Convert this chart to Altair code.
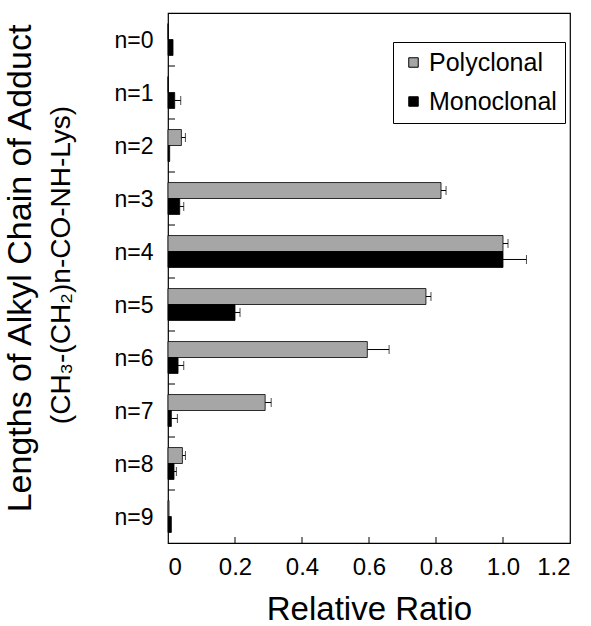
import altair as alt
import pandas as pd

cats = ["n=0", "n=1", "n=2", "n=3", "n=4", "n=5", "n=6", "n=7", "n=8", "n=9"]
series = ["Polyclonal", "Monoclonal"]
poly = [0.0, 0.0, 0.04, 0.815, 1.0, 0.77, 0.595, 0.29, 0.043, 0.003]
poly_err = [0.0, 0.0, 0.012, 0.015, 0.015, 0.015, 0.065, 0.018, 0.009, 0.0]
mono = [0.015, 0.02, 0.005, 0.035, 1.0, 0.2, 0.03, 0.01, 0.018, 0.01]
mono_err = [0.0, 0.018, 0.0, 0.012, 0.07, 0.015, 0.017, 0.018, 0.007, 0.0]
x_ticks = [0, 0.2, 0.4, 0.6, 0.8, 1.0, 1.2]
y_title = "Lengths of Alkyl Chain of Adduct"
y_subtitle = "(CH\u2083-(CH\u2082)n-CO-NH-Lys)"
x_title = "Relative Ratio"

rows = []
for i, c in enumerate(cats):
    rows.append({"cat": c, "series": "Polyclonal", "value": poly[i], "err": poly_err[i], "hi": poly[i] + poly_err[i]})
    rows.append({"cat": c, "series": "Monoclonal", "value": mono[i], "err": mono_err[i], "hi": mono[i] + mono_err[i]})
df = pd.DataFrame(rows)
df_err = df[df["err"] > 0]

W, H = 402, 530
FONT = "Liberation Sans"

yenc = alt.Y("cat:N", sort=cats, scale=alt.Scale(paddingInner=0, paddingOuter=0),
             axis=alt.Axis(title=y_title, labelFontSize=23, labelPadding=15, ticks=False, domain=False,
                           labelColor="black", titleColor="black", titleFontSize=34, titleFontWeight="normal",
                           titleX=-131, titleY=255, titleAngle=270, titleAlign="center", labelOffset=1))
yoff = alt.YOffset("series:N", sort=series, scale=alt.Scale(paddingOuter=0.66, paddingInner=0))
xscale = alt.Scale(domain=[0, 1.2], nice=False)

bars = alt.Chart(df).mark_bar(stroke="black", strokeWidth=0.8).encode(
    y=yenc,
    yOffset=yoff,
    x=alt.X("value:Q", scale=xscale,
            axis=alt.Axis(title=x_title, values=x_ticks, grid=False, ticks=False, domain=False,
                          labelFontSize=24, labelPadding=12, labelColor="black",
                          labelExpr="datum.value == 0 ? '0' : format(datum.value, '.1f')",
                          titleFontSize=33, titleFontWeight="normal", titleColor="black", titlePadding=14)),
    color=alt.Color("series:N", sort=series,
                    scale=alt.Scale(domain=series, range=["#a6a6a6", "#000000"]),
                    legend=alt.Legend(title=None, orient="none", legendX=225, legendY=29,
                                      fillColor="white", strokeColor="black", padding=8,
                                      labelFontSize=25, labelColor="black", symbolType="square",
                                      symbolSize=90, symbolStrokeColor="black", symbolStrokeWidth=1,
                                      labelOffset=3, rowPadding=13)),
)

err_rule = alt.Chart(df_err).mark_rule(color="black", strokeWidth=1).encode(
    y=alt.Y("cat:N", sort=cats), yOffset=alt.YOffset("series:N", sort=series),
    x=alt.X("value:Q", scale=xscale), x2="hi:Q")
err_cap = alt.Chart(df_err).mark_tick(color="black", thickness=1, size=9).encode(
    y=alt.Y("cat:N", sort=cats), yOffset=alt.YOffset("series:N", sort=series),
    x=alt.X("hi:Q", scale=xscale))

xt = alt.Chart(pd.DataFrame({"t": x_ticks[1:-1]})).mark_rule(color="black", strokeWidth=1).encode(
    x=alt.X("t:Q", scale=xscale), y=alt.value(H), y2=alt.value(H - 6))
yt = alt.Chart(pd.DataFrame({"cat": cats[1:]})).mark_rule(color="black", strokeWidth=1).encode(
    y=alt.Y("cat:N", sort=cats, bandPosition=0), x=alt.value(0), x2=alt.value(7))

sub = alt.Chart(pd.DataFrame({"t": [y_subtitle]})).mark_text(
    angle=270, fontSize=28, baseline="middle", align="center", color="black", font=FONT).encode(
    x=alt.value(-106), y=alt.value(252), text="t:N")

chart = alt.layer(bars, err_rule, err_cap, xt, yt, sub).properties(
    width=W, height=H,
    autosize=alt.AutoSizeParams(type="none"),
    padding={"left": 168, "top": 13, "right": 21, "bottom": 83},
).configure(font=FONT, background="white").configure_view(stroke="black", strokeWidth=1.2)

chart.save("out.html", embed_options={"renderer": "svg", "actions": False})
